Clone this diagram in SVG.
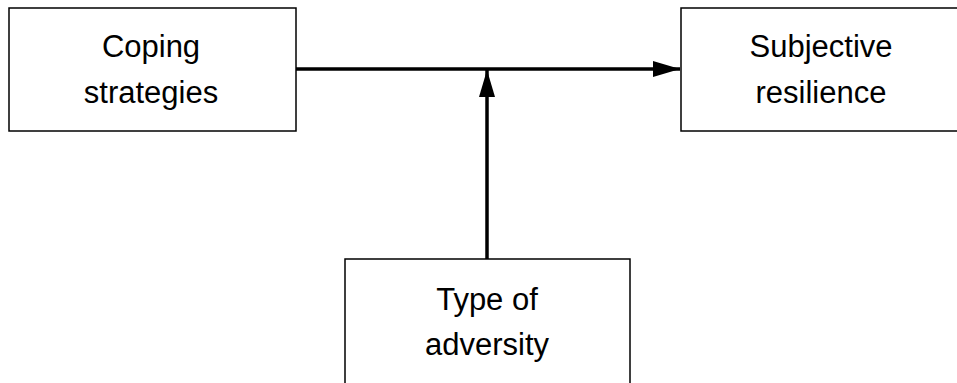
<svg xmlns="http://www.w3.org/2000/svg" width="957" height="383" viewBox="0 0 957 383">
  <style>
    .box { fill: #ffffff; stroke: #000000; stroke-width: 1.5; }
    .label { font-family: "Liberation Sans", Arial, sans-serif; font-size: 31px; fill: #000000; text-anchor: middle; }
    .link { stroke: #000000; stroke-width: 3.5; fill: none; }
  </style>
  <defs>
    <marker id="arrow" viewBox="0 0 27 16" refX="27" refY="8" markerWidth="27" markerHeight="16" markerUnits="userSpaceOnUse" orient="auto">
      <path d="M0,0 L27,8 L0,16 Z" fill="#000000"/>
    </marker>
  </defs>
  <rect width="957" height="383" fill="#ffffff"/>

  <g id="coping">
    <rect class="box" x="9" y="8" width="287" height="123"/>
    <text class="label" x="151" y="57">Coping</text>
    <text class="label" x="151" y="103">strategies</text>
  </g>

  <g id="resilience">
    <rect class="box" x="681" y="8" width="287" height="123"/>
    <text class="label" x="821" y="57">Subjective</text>
    <text class="label" x="821" y="103">resilience</text>
  </g>

  <g id="adversity">
    <rect class="box" x="345" y="259" width="285" height="140"/>
    <text class="label" x="487" y="310">Type of</text>
    <text class="label" x="487" y="355">adversity</text>
  </g>

  <g id="connectors">
    <line class="link" x1="296" y1="69" x2="680" y2="69" marker-end="url(#arrow)"/>
    <line class="link" x1="487" y1="259" x2="487" y2="70" marker-end="url(#arrow)"/>
  </g>
</svg>
